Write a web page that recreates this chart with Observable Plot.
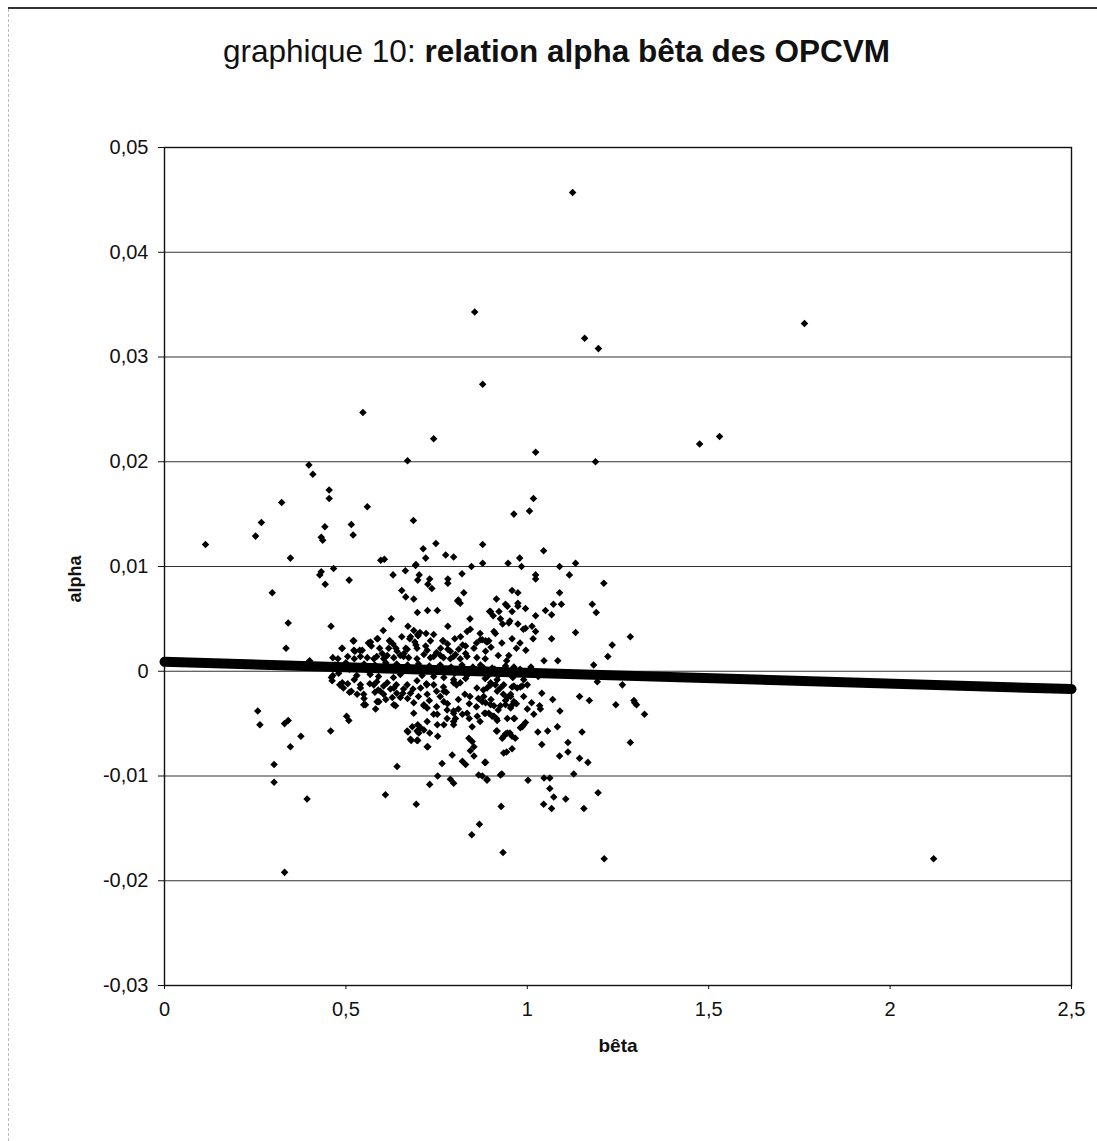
<!DOCTYPE html>
<html><head><meta charset="utf-8">
<script src="https://cdn.jsdelivr.net/npm/d3@7"></script>
<script src="https://cdn.jsdelivr.net/npm/@observablehq/plot@0.6"></script>
<style>
body{margin:0;background:#fff;font-family:"Liberation Sans",Arial,sans-serif;}
#page{position:relative;width:1097px;height:1141px;overflow:hidden;background:#fff}
#topline{position:absolute;left:8px;right:0;top:7px;height:2px;background:#333;z-index:5}
#leftline{position:absolute;left:8px;top:9px;bottom:0;border-left:1px dashed #bbb;z-index:5}
#title{position:absolute;left:8px;top:0;width:1097px;height:100px;text-align:center;font-size:31.5px;line-height:1;padding-top:36px;box-sizing:border-box;color:#111}
#chart{position:absolute;left:0;top:100px}
</style></head>
<body><div id="page"><div id="topline"></div><div id="leftline"></div>
<div id="title">graphique 10: <b>relation alpha bêta des OPCVM</b></div>
<div id="chart"></div></div>
<script>
// [bêta, alpha]
const outliers = [
 [1.125,0.0457],[0.855,0.0343],[1.158,0.0318],[1.196,0.0308],[0.877,0.0274],
 [1.764,0.0332],[1.475,0.0217],[1.530,0.0224],[2.120,-0.0179],[1.023,0.0209],
 [1.188,0.0200],[0.547,0.0247],[0.742,0.0222],[0.670,0.0201],[0.398,0.0197],
 [0.409,0.0188],[0.331,-0.0192],[1.212,-0.0179],[0.933,-0.0173],[0.868,-0.0146],[0.847,-0.0156]
];
const upperLeft = [
 [0.113,0.0121],[0.251,0.0129],[0.267,0.0142],[0.323,0.0161],[0.442,0.0138],[0.432,0.0128],[0.436,0.0125],
 [0.454,0.0173],[0.454,0.0165],[0.559,0.0157],[0.515,0.0140],[0.520,0.0130],[0.347,0.0108],[0.466,0.0098],
 [0.428,0.0092],[0.432,0.0095],[0.443,0.0083],[0.509,0.0087],[0.297,0.0075],[0.596,0.0106],[0.606,0.0107],
 [0.341,0.0046],[0.459,0.0043]
];
const upperMid = [
 [0.686,0.0144],[0.748,0.0122],[0.713,0.0117],[0.720,0.0108],[0.775,0.0111],[0.797,0.0109],[0.692,0.0101],
 [0.664,0.0096],[0.630,0.0092],[0.702,0.0092],[0.698,0.0087],[0.731,0.0088],[0.726,0.0083],[0.737,0.0079],
 [0.781,0.0088],[0.781,0.0084],[0.654,0.0077],[0.665,0.0071],[0.687,0.0069],[0.808,0.0067],[0.697,0.0056],
 [0.725,0.0058],[0.752,0.0058],[0.625,0.0050],[0.781,0.0043],[0.693,0.0102],[0.846,0.0100],[0.877,0.0103],
 [0.820,0.0093],[0.825,0.0075],[0.810,0.0068],[0.815,0.0065],[0.842,0.0050],[0.896,0.0057],[0.877,0.0121]
];
const upperRight = [
 [0.963,0.0150],[1.006,0.0153],[1.017,0.0165],[1.045,0.0115],[0.979,0.0108],[0.947,0.0103],[0.984,0.0100],
 [1.089,0.0100],[1.133,0.0103],[1.023,0.0092],[1.023,0.0088],[1.116,0.0092],[1.211,0.0084],[0.915,0.0069],
 [0.958,0.0077],[0.974,0.0075],[1.089,0.0075],[0.945,0.0062],[0.940,0.0064],[0.974,0.0065],[0.974,0.0062],
 [0.995,0.0060],[0.958,0.0057],[0.899,0.0057],[0.906,0.0053],[0.922,0.0057],[0.926,0.0050],[0.932,0.0045],
 [0.952,0.0048],[0.949,0.0046],[0.974,0.0045],[0.989,0.0040],[0.995,0.0041],[1.013,0.0043],[1.023,0.0038],
 [1.023,0.0053],[1.050,0.0058],[1.067,0.0054],[1.072,0.0064],[1.094,0.0064],[1.179,0.0064],[1.190,0.0056],
 [1.133,0.0037],[1.284,0.0033],[1.234,0.0025],[1.222,0.0014],[1.183,0.0006]
];
const nearAbove = [
 [0.603,0.0039],[0.588,0.0031],[0.568,0.0028],[0.562,0.0027],[0.671,0.0043],[0.687,0.0039],[0.698,0.0035],
 [0.654,0.0033],[0.676,0.0031],[0.742,0.0035],[0.621,0.0029],[0.638,0.0022],[0.520,0.0029],[0.489,0.0022],
 [0.400,0.0010],[0.478,0.0012],[0.522,0.0020],[0.538,0.0020],[0.593,0.0022],[0.665,0.0022],[0.693,0.0025],
 [0.768,0.0029],[0.781,0.0021],[0.802,0.0016],[0.335,0.0022],
 [0.540,0.0014],[0.559,0.0013],[0.577,0.0012],[0.614,0.0015],[0.632,0.0013],[0.650,0.0015],[0.673,0.0013],
 [0.715,0.0016],[0.733,0.0013],[0.761,0.0015],[0.788,0.0012],
 [0.704,0.0037],[0.678,0.0033],[0.699,0.0034],[0.721,0.0036],[0.733,0.0029],[0.767,0.0029],[0.816,0.0033],
 [0.834,0.0038],[0.843,0.0040],[0.822,0.0025],[0.871,0.0030],[0.885,0.0029],[0.586,0.0031],[0.620,0.0029],
 [0.525,0.0019],[0.545,0.0020],[0.618,0.0022],[0.641,0.0019],[0.669,0.0021],[0.696,0.0022],[0.724,0.0020],
 [0.761,0.0022],[0.788,0.0019],[0.811,0.0021],[0.830,0.0024],[0.853,0.0022],[0.885,0.0019],
 [0.464,0.0013],[0.505,0.0014],[0.523,0.0012],[0.585,0.0014],[0.604,0.0012],[0.659,0.0014],[0.696,0.0012],
 [0.742,0.0014],[0.769,0.0013],[0.797,0.0014],[0.815,0.0012],[0.834,0.0014],[0.861,0.0013],[0.884,0.0012],
 [0.871,0.0006],[0.903,0.0003],[0.963,0.0004],[0.949,0.0015],[0.943,0.0010],[1.046,0.0010],[1.084,0.0010],
 [0.970,0.0022],[0.996,0.0020],[0.876,0.0030],[0.889,0.0028],[0.894,0.0029],[0.958,0.0031],[1.016,0.0031],
 [1.067,0.0031],[0.908,0.0038],[0.912,0.0036],[0.490,0.0022],[0.522,0.0029]
];
const nearBelow = [
 [0.464,-0.0004],[0.505,-0.0012],[0.523,-0.0008],[0.540,-0.0016],[0.567,-0.0003],[0.585,-0.0010],[0.604,-0.0014],
 [0.631,-0.0006],[0.659,-0.0017],[0.696,-0.0009],[0.723,-0.0013],[0.742,-0.0005],[0.769,-0.0015],[0.797,-0.0008],
 [0.815,-0.0011],[0.834,-0.0004],[0.861,-0.0016],[0.884,-0.0007],
 [0.483,-0.0013],[0.510,-0.0020],[0.566,-0.0012],[0.589,-0.0018],[0.639,-0.0013],[0.657,-0.0021],[0.685,-0.0017],
 [0.722,-0.0012],[0.750,-0.0019],[0.777,-0.0020],[0.805,-0.0013],[0.828,-0.0022],[0.842,-0.0024],[0.865,-0.0026],
 [0.879,-0.0018],
 [0.460,-0.0006],[0.462,-0.0009],[0.490,-0.0011],[0.493,-0.0016],[0.515,-0.0019],[0.531,-0.0022],[0.591,-0.0029],
 [0.549,-0.0022],[0.595,-0.0019],[0.604,-0.0022],[0.623,-0.0017],[0.628,-0.0025],[0.650,-0.0025],[0.586,-0.0029],
 [0.540,-0.0013],[0.577,-0.0013],[0.614,-0.0011],[0.632,-0.0016],[0.669,-0.0013],[0.678,-0.0021],[0.706,-0.0016],
 [0.724,-0.0022],[0.742,-0.0013],[0.770,-0.0019],[0.797,-0.0011],[0.687,-0.0030],[0.715,-0.0033],[0.770,-0.0029],
 [0.899,-0.0013],[0.917,-0.0008],[0.935,-0.0013],[0.958,-0.0015],[0.981,-0.0015],[1.000,-0.0013],[1.193,-0.0010],
 [1.262,-0.0013],
 [0.954,-0.0024],[0.945,-0.0025],[0.934,-0.0022],[0.917,-0.0019],[0.926,-0.0016],[0.963,-0.0014],[0.912,-0.0013],
 [0.889,-0.0016],[0.899,-0.0011],[0.885,-0.0030],[0.876,-0.0029],[0.954,-0.0022],[0.972,-0.0016],[0.986,-0.0014],
 [1.144,-0.0024],[1.171,-0.0028],[1.294,-0.0028]
];
const core = [
 [0.47,0.0006],[0.48,-0.0002],[0.50,0.0008],[0.51,0.0002],[0.53,-0.0004],[0.55,0.0007],[0.56,0.0001],[0.58,0.0006],
 [0.59,-0.0005],[0.61,0.0008],[0.62,0.0002],[0.64,0.0007],[0.65,-0.0003],[0.67,0.0006],[0.68,0.0001],[0.70,0.0007],
 [0.71,-0.0004],[0.73,0.0005],[0.74,0.0000],[0.76,0.0006],[0.77,-0.0006],[0.79,0.0004],[0.80,-0.0002],[0.82,0.0006],
 [0.83,-0.0007],[0.85,0.0004],[0.86,-0.0001],[0.88,0.0003],[0.89,-0.0005],[0.91,0.0002],[0.92,-0.0004],[0.94,0.0005],
 [0.96,-0.0006],[0.98,0.0002],[0.99,-0.0008],[1.01,0.0004],[1.03,-0.0005],
 [0.57,0.0024],[0.60,0.0017],[0.63,0.0026],[0.66,0.0017],[0.69,0.0028],[0.72,0.0024],[0.75,0.0018],[0.78,0.0026],
 [0.80,0.0031],[0.83,0.0017],[0.86,0.0027],[0.87,0.0036],[0.90,0.0023],[0.92,0.0015],[0.93,0.0027],[0.98,0.0027],
 [0.55,-0.0026],[0.58,-0.0020],[0.61,-0.0027],[0.64,-0.0021],[0.67,-0.0026],[0.70,-0.0024],[0.73,-0.0028],
 [0.76,-0.0024],[0.78,-0.0031],[0.81,-0.0027],[0.84,-0.0031],[0.86,-0.0034],[0.88,-0.0024],[0.90,-0.0027],
 [0.92,-0.0037],[0.94,-0.0028],[0.97,-0.0031],[0.99,-0.0024],[1.00,-0.0036],[1.04,-0.0021],[1.07,-0.0027],
 [1.09,-0.0038],[0.75,-0.0034],[0.81,-0.0036],[0.84,-0.0045],[0.87,-0.0048]
];
const lower = [
 [0.549,-0.0032],[0.554,-0.0032],[0.582,-0.0036],[0.632,-0.0032],[0.637,-0.0033],[0.502,-0.0043],[0.508,-0.0047],
 [0.458,-0.0057],[0.687,-0.0040],
 [0.683,-0.0053],[0.671,-0.0058],[0.698,-0.0051],[0.706,-0.0054],[0.715,-0.0056],[0.701,-0.0059],[0.731,-0.0059],
 [0.680,-0.0066],[0.698,-0.0066],[0.726,-0.0072],[0.753,-0.0062],
 [0.715,-0.0032],[0.724,-0.0035],[0.742,-0.0041],[0.752,-0.0041],[0.779,-0.0037],[0.797,-0.0040],[0.802,-0.0045],
 [0.821,-0.0041],[0.834,-0.0040],[0.862,-0.0043],[0.885,-0.0040],[0.770,-0.0051],[0.797,-0.0051],[0.848,-0.0053],
 [0.839,-0.0064],[0.848,-0.0067],[0.853,-0.0072],[0.843,-0.0076],[0.853,-0.0081],[0.821,-0.0086],[0.830,-0.0089],
 [0.793,-0.0080],[0.765,-0.0088],[0.883,-0.0087],[0.866,-0.0099],[0.889,-0.0103],
 [0.641,-0.0091],[0.753,-0.0100],[0.731,-0.0108],[0.788,-0.0103],[0.797,-0.0107],[0.609,-0.0118],[0.694,-0.0127],
 [0.257,-0.0038],[0.263,-0.0051],[0.331,-0.0050],[0.341,-0.0047],[0.376,-0.0062],[0.347,-0.0072],[0.302,-0.0089],
 [0.302,-0.0106],[0.393,-0.0122],
 [0.797,-0.0038],[0.779,-0.0045],[0.797,-0.0048],[0.724,-0.0048],[0.752,-0.0051],[0.669,-0.0057],[0.696,-0.0057],
 [0.678,-0.0065],[0.696,-0.0066],[0.724,-0.0072],
 [0.908,-0.0033],[0.926,-0.0033],[0.940,-0.0032],[0.954,-0.0035],[0.963,-0.0029],
 [0.899,-0.0032],[0.956,-0.0033],[0.963,-0.0045],[0.945,-0.0045],[0.915,-0.0045],[0.908,-0.0043],[0.894,-0.0040],
 [0.882,-0.0040],[0.915,-0.0057],[0.931,-0.0064],[0.940,-0.0060],[0.952,-0.0059],[0.958,-0.0062],[0.967,-0.0064],
 [0.986,-0.0053],[0.995,-0.0049],[0.981,-0.0054],[0.935,-0.0078],[0.943,-0.0077],[0.958,-0.0074],[0.885,-0.0087],
 [0.926,-0.0099],[0.930,-0.0098],[0.876,-0.0100],[0.889,-0.0104],[0.928,-0.0129],
 [1.012,-0.0030],[1.034,-0.0033],[1.036,-0.0036],[1.018,-0.0041],[1.029,-0.0058],[1.040,-0.0070],[1.056,-0.0057],
 [1.083,-0.0053],[1.112,-0.0068],[1.112,-0.0077],[1.089,-0.0081],[1.144,-0.0083],[1.167,-0.0087],[1.151,-0.0058],
 [1.284,-0.0068],[1.244,-0.0032],[1.296,-0.0030],[1.301,-0.0032],[1.323,-0.0041],[1.128,-0.0098],[1.195,-0.0116],
 [1.046,-0.0102],[1.062,-0.0102],[1.002,-0.0104],[1.062,-0.0112],[1.073,-0.0120],[1.106,-0.0122],[1.045,-0.0127],
 [1.067,-0.0131],[1.156,-0.0131],
 [0.965,-0.0045],[0.917,-0.0047],[0.903,-0.0043],[0.917,-0.0057],[0.935,-0.0062],[0.945,-0.0059],[0.990,-0.0051]
];
// trend line (bêta, alpha) endpoints
const trendBeta = [0, 2.5];
const trendAlpha = [0.0009, -0.0017];
// axis ticks
const xTicks = [0, 0.5, 1, 1.5, 2, 2.5];
const yTicks = [-0.03, -0.02, -0.01, 0, 0.01, 0.02, 0.03, 0.04, 0.05];

const points = [...outliers, ...upperLeft, ...upperMid, ...upperRight, ...nearAbove, ...nearBelow, ...core, ...lower];
const trend = trendBeta.map((b, i) => ({beta: b, alpha: trendAlpha[i]}));
const fmt = d => d === 0 ? "0" : String(d).replace(".", ",");
const font = "Liberation Sans, Arial, sans-serif";

const chart = Plot.plot({
  width: 1097, height: 1041,
  marginTop: 47, marginBottom: 156, marginLeft: 164, marginRight: 26,
  style: {fontFamily: font, fontSize: "20px", color: "#111", background: "#fff", overflow: "visible"},
  x: {domain: [0, 2.5]},
  y: {domain: [-0.03, 0.05]},
  marks: [
    Plot.gridY(yTicks, {stroke: "#333", strokeOpacity: 1, strokeWidth: 1.2}),
    Plot.frame({stroke: "#111", strokeWidth: 1.4}),
    Plot.axisY({ticks: yTicks, tickFormat: fmt, tickSize: 6, tickPadding: 10, label: null, fontSize: 20, stroke: "#111"}),
    Plot.axisX({ticks: xTicks, tickFormat: fmt, tickSize: 4, tickPadding: 12, label: null, fontSize: 20, stroke: "#111"}),
    Plot.dot(points, {x: d => d[0], y: d => d[1], symbol: "square", rotate: 45, r: 3.0, fill: "#000", stroke: "none"}),
    Plot.line(trend, {x: "beta", y: "alpha", stroke: "#000", strokeWidth: 10, strokeLinecap: "round"}),
    Plot.text(["alpha"], {text: d => d, frameAnchor: "left", dx: -89, dy: 36, rotate: -90, fontWeight: "bold", fontSize: 18, fill: "#111"}),
    Plot.text(["bêta"], {text: d => d, frameAnchor: "bottom", dy: 66, fontWeight: "bold", fontSize: 19, fill: "#111"})
  ]
});
document.getElementById("chart").appendChild(chart);
</script>
</body></html>
